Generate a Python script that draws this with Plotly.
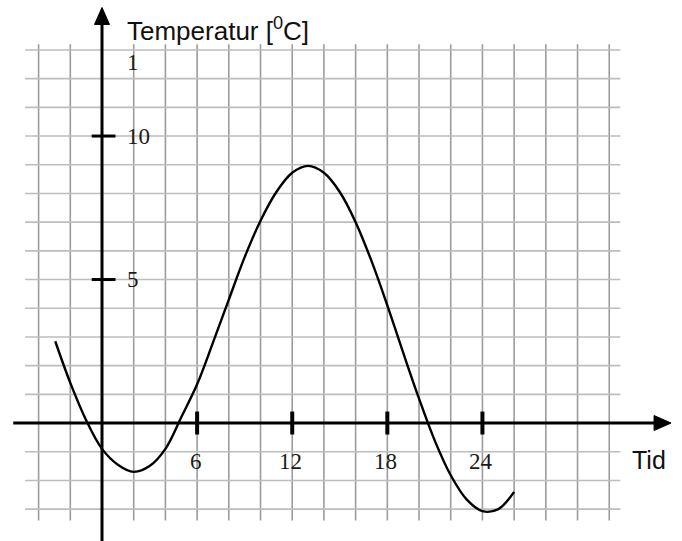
import plotly.graph_objects as go

# ---- data (temperature at each hour) ----
time_h = [-2.95, -2, -1, 0, 1, 2, 3, 4, 5, 6, 7, 8, 9, 10, 11, 12, 13, 14, 15,
          16, 17, 18, 19, 20, 21, 22, 23, 24, 25, 26.0]
temp_c = [2.85, 1.4, 0.1, -0.9, -1.45, -1.7, -1.5, -0.9, 0.2, 1.35, 2.8, 4.3,
          5.78, 7.05, 8.05, 8.72, 8.96, 8.72, 8.05, 7.0, 5.65, 4.1, 2.45, 0.85,
          -0.62, -1.82, -2.66, -3.07, -3.0, -2.4]

x_tick_vals = [6, 12, 18, 24]
x_tick_text = ["6", "12", "18", "24"]
y_tick_vals = [5, 10]
y_tick_text = ["5", "10"]
y_stray_label = "1"
y_title = "Temperatur [<sup>0</sup>C]"
x_title = "Tid"
grid_x = list(range(-4, 33, 2))
grid_y = list(range(-3, 14))

# ---- figure ----
XR = [-6.435, 36.59]
YR = [-4.11, 14.74]
sx = 682 / (XR[1] - XR[0])   # px per x unit
sy = 541 / (YR[1] - YR[0])   # px per y unit

fig = go.Figure()
fig.add_trace(go.Scatter(x=time_h, y=temp_c, mode="lines",
                         line=dict(color="black", width=2.4, shape="spline", smoothing=1.0),
                         hoverinfo="skip", showlegend=False))

shapes = []
for gx in grid_x:
    if gx == 0:
        continue
    shapes.append(dict(type="line", x0=gx, x1=gx, y0=-3.4, y1=13.2, layer="below",
                       line=dict(color="#9c9c9c", width=1.6)))
for gy in grid_y:
    if gy == 0:
        continue
    shapes.append(dict(type="line", x0=-4.85, x1=32.7, y0=gy, y1=gy, layer="below",
                       line=dict(color="#bdbdbd", width=1.6)))

# axes
shapes.append(dict(type="line", x0=-5.6, x1=35.0, y0=0, y1=0,
                   line=dict(color="black", width=3)))
shapes.append(dict(type="line", x0=0, x1=0, y0=-4.11, y1=14.0,
                   line=dict(color="black", width=3)))
# arrow heads
tip_x = 35.9
hw = 7.5 / sy
shapes.append(dict(type="path",
                   path=f"M {tip_x} 0 L {tip_x - 17/sx} {hw} L {tip_x - 17/sx} {-hw} Z",
                   fillcolor="black", line=dict(color="black", width=1)))
tip_y = 14.48
ww = 7.5 / sx
shapes.append(dict(type="path",
                   path=f"M 0 {tip_y} L {-ww} {tip_y - 17/sy} L {ww} {tip_y - 17/sy} Z",
                   fillcolor="black", line=dict(color="black", width=1)))
# tick marks
for tv in x_tick_vals:
    shapes.append(dict(type="line", x0=tv, x1=tv, y0=-0.4, y1=0.4,
                       line=dict(color="black", width=4)))
for tv in y_tick_vals:
    shapes.append(dict(type="line", x0=-0.65, x1=0.85, y0=tv, y1=tv,
                       line=dict(color="black", width=3)))

serif = "Liberation Serif, Times New Roman, serif"
sans = "Liberation Sans, Arial, sans-serif"
ann = []
for tv, tt in zip(x_tick_vals, x_tick_text):
    ann.append(dict(x=tv - 0.1, y=-1.35, text=tt, showarrow=False, xanchor="center",
                    yanchor="middle", font=dict(family=serif, size=23, color="#1a1a1a")))
for tv, tt in zip(y_tick_vals, y_tick_text):
    ann.append(dict(x=1.45, y=tv, text=tt, showarrow=False, xanchor="left",
                    yanchor="middle", font=dict(family=serif, size=23, color="#1a1a1a")))
ann.append(dict(x=1.45, y=12.55, text=y_stray_label, showarrow=False, xanchor="left",
                yanchor="middle", font=dict(family=serif, size=23, color="#1a1a1a")))
ann.append(dict(x=1.45, y=13.72, text=y_title, showarrow=False, xanchor="left",
                yanchor="middle", font=dict(family=sans, size=26, color="#111")))
ann.append(dict(x=33.3, y=-1.3, text=x_title, showarrow=False, xanchor="left",
                yanchor="middle", font=dict(family=sans, size=25, color="#111")))

fig.update_layout(
    width=682, height=541,
    margin=dict(l=0, r=0, t=0, b=0),
    paper_bgcolor="white", plot_bgcolor="white",
    xaxis=dict(range=XR, visible=False, fixedrange=True),
    yaxis=dict(range=YR, visible=False, fixedrange=True),
    shapes=shapes, annotations=ann, showlegend=False,
)
fig.write_html("out.html", config={"displayModeBar": False},
               post_script="document.body.style.margin='0px';document.body.style.overflow='hidden';")
